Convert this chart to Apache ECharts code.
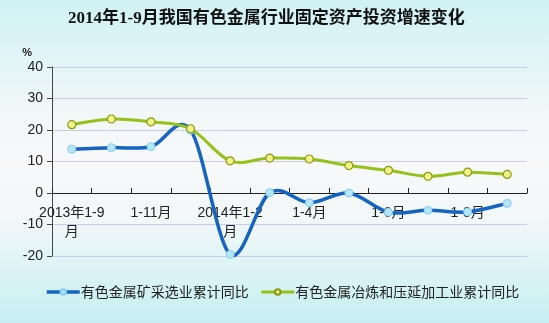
<!DOCTYPE html>
<html>
<head>
<meta charset="utf-8">
<script src="https://cdn.jsdelivr.net/npm/echarts@6/dist/echarts.min.js"></script>
<style>
html,body{margin:0;padding:0;}
#c{width:549px;height:323px;}
</style>
</head>
<body>
<div id="c"></div>
<script>
var titleText = '2014年1-9月我国有色金属行业固定资产投资增速变化';
var categories = ['2013年1-9\n月','1-10月','1-11月','1-12月','2014年1-2\n月','1-3月','1-4月','1-5月','1-6月','1-7月','1-8月','1-9月'];
var seriesNames = ['有色金属矿采选业累计同比','有色金属冶炼和压延加工业累计同比'];
var miningValues = [13.9, 14.4, 14.7, 20.0, -19.5, 0.1, -3.1, 0.0, -6.1, -5.5, -6.0, -3.3];
var smeltingValues = [21.7, 23.5, 22.6, 20.4, 10.2, 11.1, 10.8, 8.7, 7.2, 5.3, 6.6, 5.9];
var yTicks = {min: -20, max: 40, interval: 10};
var unitLabel = '%';

var blueColor = '#1464c0';
var greenColor = '#94c11a';

function toPairs(values) {
  return values.map(function (v, i) { return [i, v]; });
}

// Cardinal (Catmull-Rom) spline through the points, in pixel space via the library's coordinate system
function splineRenderer(color, width) {
  return function (params, api) {
    if (params.dataIndexInside !== 0) return null;
    var n = params.dataInsideLength;
    var pts = [];
    for (var i = 0; i < n; i++) {
      pts.push(api.coord([api.value(0, i), api.value(1, i)]));
    }
    var children = [];
    for (var j = 0; j < n - 1; j++) {
      var p0 = pts[Math.max(j - 1, 0)];
      var p1 = pts[j];
      var p2 = pts[j + 1];
      var p3 = pts[Math.min(j + 2, n - 1)];
      children.push({
        type: 'bezierCurve',
        shape: {
          x1: p1[0], y1: p1[1],
          x2: p2[0], y2: p2[1],
          cpx1: p1[0] + (p2[0] - p0[0]) / 6,
          cpy1: p1[1] + (p2[1] - p0[1]) / 6,
          cpx2: p2[0] - (p3[0] - p1[0]) / 6,
          cpy2: p2[1] - (p3[1] - p1[1]) / 6
        },
        style: {fill: null, stroke: color, lineWidth: width, lineCap: 'round'}
      });
    }
    return {type: 'group', children: children};
  };
}

var chart = echarts.init(document.getElementById('c'), null, {renderer: 'canvas'});
chart.setOption({
  animation: false,
  backgroundColor: {
    type: 'linear', x: 0, y: 0, x2: 0, y2: 1,
    colorStops: [
      {offset: 0, color: '#d0f2f5'},
      {offset: 0.35, color: '#f2f7f8'},
      {offset: 0.5, color: '#f8f8f9'},
      {offset: 0.68, color: '#f2f7f8'},
      {offset: 1, color: '#c6eff2'}
    ]
  },
  title: {
    text: titleText,
    left: 63,
    top: 5,
    textStyle: {fontFamily: '"Liberation Serif", "Noto Sans CJK SC", serif', fontSize: 17, fontWeight: 'bold', color: '#111'}
  },
  grid: {left: 52, right: 22, top: 67, bottom: 67, containLabel: false},
  legend: {
    left: 40,
    top: 280,
    itemWidth: 33,
    itemHeight: 7,
    itemGap: 11,
    textStyle: {fontSize: 14, color: '#222', fontFamily: '"Noto Sans CJK SC", sans-serif', padding: [0, 0, 0, -4]},
    data: [
      {name: seriesNames[0], lineStyle: {color: blueColor, width: 3.5, opacity: 1}},
      {name: seriesNames[1], lineStyle: {color: greenColor, width: 3, opacity: 1}}
    ]
  },
  xAxis: {
    type: 'category',
    data: categories,
    boundaryGap: true,
    offset: -63,
    axisLine: {onZero: false, lineStyle: {color: '#222', width: 1}},
    axisTick: {show: true, inside: true, length: 5, interval: 0, lineStyle: {color: '#222'}},
    axisLabel: {interval: 1, margin: 11, fontSize: 14, lineHeight: 19, color: '#222', fontFamily: 'Arial, "Liberation Sans", "Noto Sans CJK SC", sans-serif'},
    splitLine: {show: false}
  },
  yAxis: {
    type: 'value',
    min: yTicks.min,
    max: yTicks.max,
    interval: yTicks.interval,
    name: unitLabel,
    nameLocation: 'end',
    nameGap: 9,
    nameTextStyle: {align: 'right', padding: [0, 20, 0, 0], fontSize: 11, color: '#222', fontWeight: 'bold'},
    axisLine: {show: true, lineStyle: {color: '#444', width: 1}},
    axisTick: {show: true, length: 5, lineStyle: {color: '#444'}},
    axisLabel: {fontSize: 14, color: '#222', margin: 9, fontFamily: 'Arial, "Liberation Sans", sans-serif'},
    splitLine: {show: true, lineStyle: {color: '#c9c9f2', width: 1}}
  },
  series: [
    {
      type: 'custom',
      coordinateSystem: 'cartesian2d',
      data: toPairs(miningValues),
      encode: {x: 0, y: 1},
      renderItem: splineRenderer(blueColor, 3.5),
      clip: false,
      silent: true,
      z: 1
    },
    {
      name: seriesNames[0],
      type: 'line',
      data: miningValues,
      symbol: 'circle',
      symbolSize: 8,
      showAllSymbol: true,
      lineStyle: {color: blueColor, width: 3.5, opacity: 0},
      itemStyle: {color: '#b4e6fa', borderColor: '#86cdf0', borderWidth: 1},
      z: 2
    },
    {
      type: 'custom',
      coordinateSystem: 'cartesian2d',
      data: toPairs(smeltingValues),
      encode: {x: 0, y: 1},
      renderItem: splineRenderer(greenColor, 3),
      clip: false,
      silent: true,
      z: 3
    },
    {
      name: seriesNames[1],
      type: 'line',
      data: smeltingValues,
      symbol: 'circle',
      symbolSize: 8,
      showAllSymbol: true,
      lineStyle: {color: greenColor, width: 3, opacity: 0},
      itemStyle: {color: '#f2f28a', borderColor: '#8a9a10', borderWidth: 1.2},
      z: 4
    }
  ]
});
</script>
</body>
</html>
